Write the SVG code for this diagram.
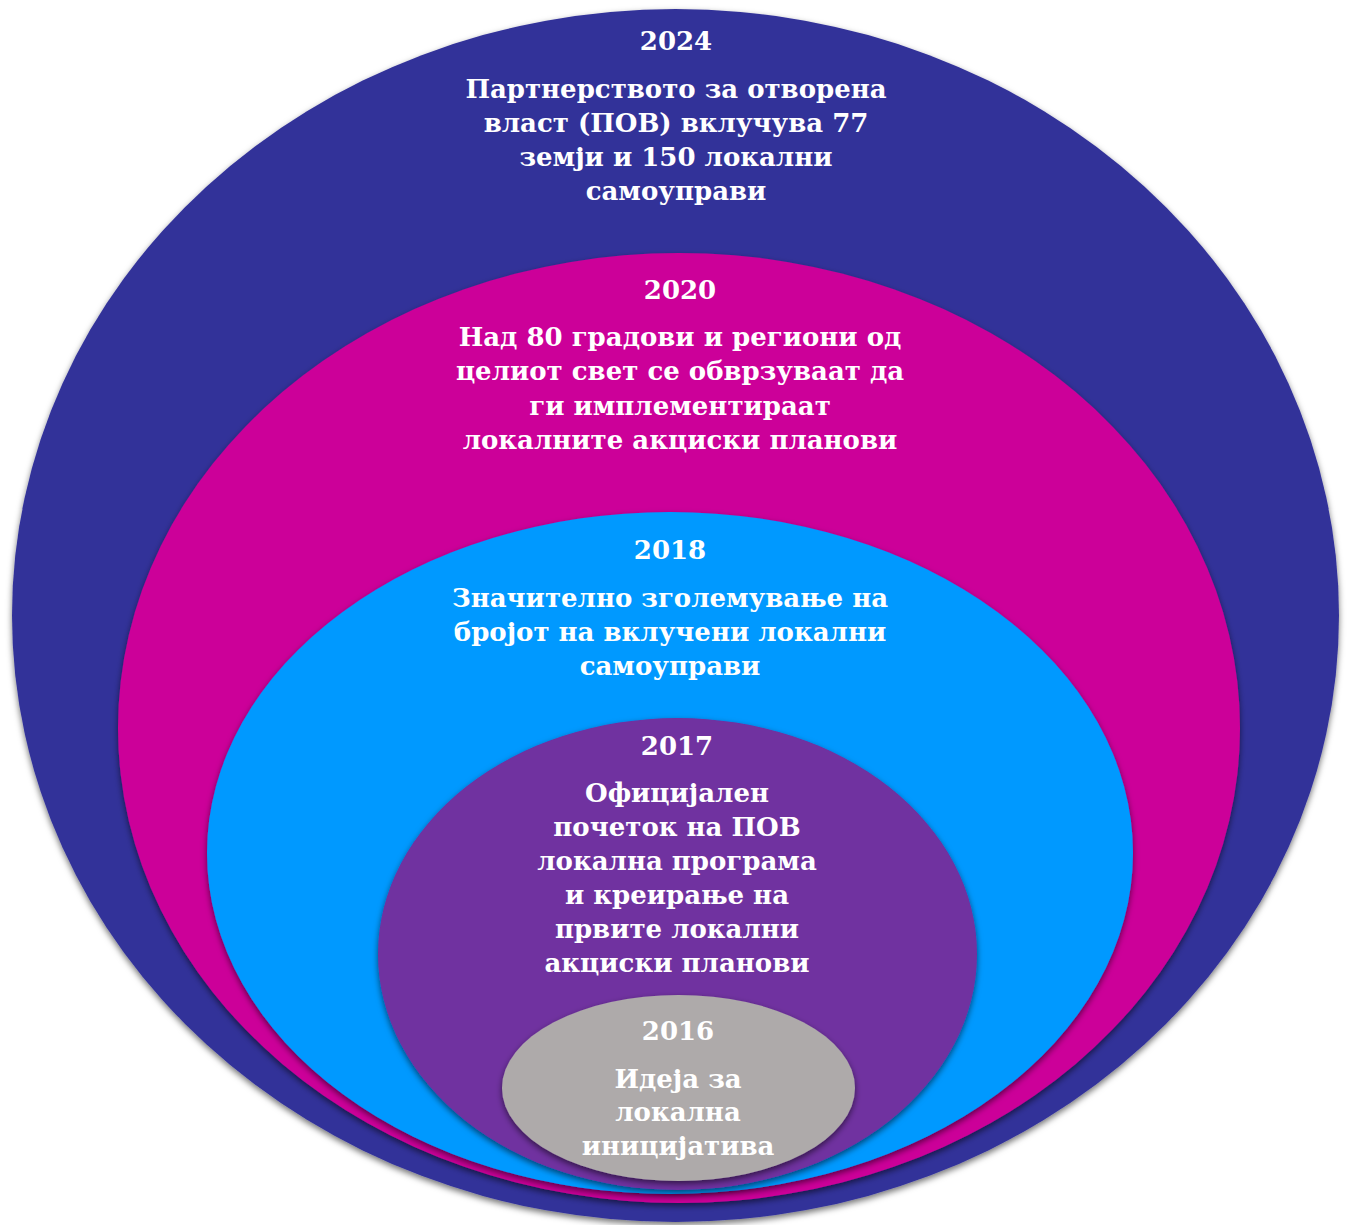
<svg xmlns="http://www.w3.org/2000/svg" width="1349" height="1225" viewBox="0 0 1349 1225">
<defs>
<filter id="sh" x="-10%" y="-10%" width="120%" height="120%">
<feDropShadow dx="0" dy="3" stdDeviation="3" flood-color="#000" flood-opacity="0.55"/>
</filter>
<style>
.t{font-family:"DejaVu Serif","Liberation Serif",serif;font-weight:bold;font-size:26px;fill:#fff;text-anchor:middle}
</style>
</defs>
<rect width="1349" height="1225" fill="#fff"/>
<g id="n2024"><ellipse cx="675.5" cy="615.5" rx="663.5" ry="606.5" fill="#333399" filter="url(#sh)"/></g>
<g id="n2020"><ellipse cx="679" cy="728" rx="561" ry="475" fill="#CC0099" filter="url(#sh)"/></g>
<g id="n2018"><ellipse cx="670" cy="853" rx="463" ry="341" fill="#0099FF" filter="url(#sh)"/></g>
<g id="n2017"><ellipse cx="677.5" cy="954" rx="299.5" ry="236" fill="#7030A0" filter="url(#sh)"/></g>
<g id="n2016"><ellipse cx="678.5" cy="1088" rx="176.5" ry="93" fill="#AEAAAA" filter="url(#sh)"/></g>
<g id="labels">
<text class="t" x="676" y="50">2024</text>
<text class="t" x="676" y="98">Партнерството за отворена</text>
<text class="t" x="676" y="132">власт (ПОВ) вклучува 77</text>
<text class="t" x="676" y="166">земји и 150 локални</text>
<text class="t" x="676" y="200">самоуправи</text>
<text class="t" x="680" y="299">2020</text>
<text class="t" x="680" y="346">Над 80 градови и региони од</text>
<text class="t" x="680" y="380">целиот свет се обврзуваат да</text>
<text class="t" x="680" y="415">ги имплементираат</text>
<text class="t" x="680" y="449">локалните акциски планови</text>
<text class="t" x="670" y="559">2018</text>
<text class="t" x="670" y="607">Значително зголемување на</text>
<text class="t" x="670" y="641">бројот на вклучени локални</text>
<text class="t" x="670" y="675">самоуправи</text>
<text class="t" x="677" y="755">2017</text>
<text class="t" x="677" y="802">Официјален</text>
<text class="t" x="677" y="836">почеток на ПОВ</text>
<text class="t" x="677" y="870">локална програма</text>
<text class="t" x="677" y="904">и креирање на</text>
<text class="t" x="677" y="938">првите локални</text>
<text class="t" x="677" y="972">акциски планови</text>
<text class="t" x="678" y="1040">2016</text>
<text class="t" x="678" y="1088">Идеја за</text>
<text class="t" x="678" y="1121">локална</text>
<text class="t" x="678" y="1155">иницијатива</text>
</g>
<g id="connectors"/>
</svg>
